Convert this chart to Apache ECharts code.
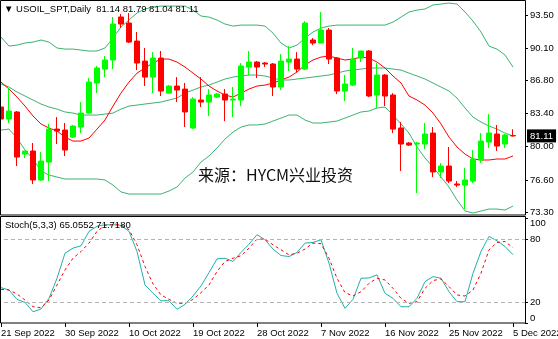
<!DOCTYPE html>
<html>
<head>
<meta charset="utf-8">
<title>USOIL_SPT Daily</title>
<script src="https://cdn.jsdelivr.net/npm/echarts@6.0.0/dist/echarts.min.js"></script>
<style>
  html, body { margin: 0; padding: 0; background: #fff; }
  #chart { width: 558px; height: 339px; }
</style>
</head>
<body>
<div id="chart"></div>
<script>
// 日线K线日期（平台含周日K线）
var dates = ['21 Sep 2022','22 Sep 2022','23 Sep 2022','25 Sep 2022','26 Sep 2022','27 Sep 2022','28 Sep 2022','29 Sep 2022',
  '30 Sep 2022','2 Oct 2022','3 Oct 2022','4 Oct 2022','5 Oct 2022','6 Oct 2022','7 Oct 2022','9 Oct 2022',
  '10 Oct 2022','11 Oct 2022','12 Oct 2022','13 Oct 2022','14 Oct 2022','16 Oct 2022','17 Oct 2022','18 Oct 2022',
  '19 Oct 2022','20 Oct 2022','21 Oct 2022','23 Oct 2022','24 Oct 2022','25 Oct 2022','26 Oct 2022','27 Oct 2022',
  '28 Oct 2022','30 Oct 2022','31 Oct 2022','1 Nov 2022','2 Nov 2022','3 Nov 2022','4 Nov 2022','6 Nov 2022',
  '7 Nov 2022','8 Nov 2022','9 Nov 2022','10 Nov 2022','11 Nov 2022','13 Nov 2022','14 Nov 2022','15 Nov 2022',
  '16 Nov 2022','17 Nov 2022','18 Nov 2022','20 Nov 2022','21 Nov 2022','22 Nov 2022','23 Nov 2022','24 Nov 2022',
  '25 Nov 2022','27 Nov 2022','28 Nov 2022','29 Nov 2022','30 Nov 2022','1 Dec 2022','2 Dec 2022','4 Dec 2022',
  '5 Dec 2022'];

var opens = [84.07, 82.84, 83.56, 79.25, 79.56, 76.59, 78.43, 81.81, 81.71, 80.99,
  82.02, 83.45, 86.53, 87.96, 88.89, 93.30, 92.68, 90.83, 88.78, 87.14,
  89.09, 85.50, 86.22, 85.91, 81.92, 84.79, 84.58, 85.09, 85.40, 84.79,
  84.79, 88.17, 88.68, 88.58, 88.48, 86.12, 88.68, 88.99, 87.96, 90.94,
  90.63, 91.96, 89.09, 85.71, 86.32, 89.09, 89.81, 85.30, 87.35, 85.30,
  81.92, 80.38, 80.28, 80.28, 81.40, 77.41, 78.02, 76.18, 76.07, 76.48,
  78.63, 80.48, 81.30, 80.28, 81.14];
var highs = [84.90, 86.02, 83.66, 79.56, 80.38, 79.46, 82.33, 83.04, 82.43, 82.23,
  84.58, 87.04, 88.27, 89.30, 93.30, 93.60, 93.70, 91.76, 90.12, 89.70,
  89.81, 86.32, 87.14, 86.53, 85.09, 87.14, 85.91, 85.50, 85.91, 86.12,
  88.58, 89.81, 88.78, 88.68, 88.58, 89.50, 90.32, 89.70, 92.88, 91.14,
  93.80, 92.17, 89.19, 87.35, 90.12, 89.85, 89.91, 88.58, 87.45, 85.50,
  82.53, 80.48, 80.48, 82.43, 82.02, 78.33, 79.97, 76.48, 77.82, 79.66,
  81.40, 83.35, 82.23, 81.30, 81.79];
var lows = [82.43, 82.43, 78.02, 78.84, 76.17, 76.50, 76.48, 80.28, 79.05, 80.90,
  81.40, 83.40, 85.50, 87.14, 87.96, 92.20, 90.63, 87.86, 86.22, 85.50,
  85.20, 85.45, 84.58, 82.02, 81.81, 84.07, 83.15, 84.99, 82.63, 83.04,
  84.17, 87.35, 87.04, 88.17, 85.20, 85.81, 87.76, 87.66, 87.86, 90.42,
  90.60, 88.48, 85.40, 84.68, 86.22, 88.68, 85.09, 83.97, 84.17, 81.40,
  77.51, 80.07, 75.25, 79.76, 76.89, 76.79, 76.28, 75.87, 73.61, 76.28,
  78.33, 79.87, 79.56, 79.87, 81.04];
var closes = [82.84, 83.66, 78.94, 79.56, 76.59, 78.53, 81.81, 81.61, 79.66, 82.12,
  83.45, 86.63, 88.07, 88.89, 92.58, 92.58, 90.73, 88.58, 87.14, 89.09,
  85.71, 86.22, 85.81, 83.56, 84.89, 84.58, 85.30, 85.40, 84.79, 84.89,
  88.27, 88.68, 88.17, 88.48, 86.12, 88.78, 88.99, 87.96, 92.68, 90.63,
  91.96, 88.99, 85.71, 86.43, 88.99, 89.81, 85.20, 87.35, 85.20, 81.81,
  80.28, 80.17, 80.38, 81.30, 77.41, 78.02, 76.48, 76.07, 76.59, 78.74,
  80.58, 81.40, 80.07, 81.20, 81.11];

// 布林带 + 均线
var bollUpper = [91.24, 90.32, 90.42, 90.63, 90.73, 90.94, 90.73, 90.12, 90.01, 90.01,
  89.91, 89.81, 89.81, 90.12, 91.14, 92.27, 92.99, 93.71, 94.12, 94.32,
  94.42, 94.42, 94.42, 94.42, 94.01, 93.40, 93.29, 92.99, 92.58, 92.37,
  92.47, 92.47, 92.47, 92.37, 91.65, 90.63, 90.12, 90.42, 91.14, 91.76,
  92.17, 92.37, 92.47, 92.47, 92.47, 92.47, 92.47, 92.47, 92.47, 92.78,
  93.29, 93.81, 94.01, 94.12, 94.53, 94.63, 94.73, 94.63, 93.81, 92.88,
  91.76, 90.32, 90.01, 89.40, 88.17];
var bollMid = [86.43, 86.12, 85.61, 85.20, 84.79, 84.38, 84.07, 83.86, 83.56, 83.45,
  83.25, 83.25, 83.25, 83.35, 83.45, 83.86, 84.17, 84.27, 84.38, 84.48,
  84.58, 84.79, 84.99, 85.50, 85.81, 86.12, 86.32, 86.63, 86.94, 87.14,
  87.25, 87.35, 87.35, 87.25, 87.04, 86.84, 86.84, 86.94, 87.04, 87.14,
  87.25, 87.35, 87.55, 87.76, 87.86, 87.96, 88.07, 88.07, 88.07, 87.96,
  87.86, 87.55, 87.25, 86.94, 86.53, 86.12, 85.71, 84.99, 83.97, 83.04,
  82.53, 82.12, 81.81, 81.40, 81.10];
var bollLower = [81.71, 81.81, 80.89, 79.66, 78.74, 77.51, 77.10, 76.89, 76.69, 76.69,
  76.69, 76.69, 76.69, 76.59, 76.07, 75.36, 75.15, 75.15, 75.15, 75.15,
  75.15, 75.46, 75.87, 76.79, 77.41, 78.43, 79.05, 79.87, 80.79, 81.50,
  82.02, 82.23, 82.23, 82.33, 82.63, 82.94, 83.25, 83.25, 82.74, 82.43,
  82.43, 82.53, 82.63, 82.94, 83.25, 83.56, 83.66, 83.97, 84.07, 83.25,
  82.33, 81.40, 79.97, 78.84, 77.92, 76.89, 75.87, 74.54, 73.41, 73.20,
  73.41, 73.61, 73.61, 73.51, 73.92];
var maRed = [86.63, 85.91, 85.09, 84.17, 83.15, 82.33, 81.92, 81.61, 80.99, 80.58,
  80.58, 80.89, 81.81, 82.74, 84.17, 85.50, 86.63, 87.55, 88.07, 88.58,
  88.99, 88.99, 88.68, 88.17, 87.55, 86.94, 86.22, 85.71, 85.30, 85.09,
  85.50, 85.91, 86.22, 86.32, 86.53, 86.84, 87.14, 87.66, 88.38, 88.89,
  89.19, 89.30, 89.09, 88.89, 88.99, 89.19, 89.09, 88.68, 88.07, 87.25,
  86.53, 85.20, 84.79, 84.27, 83.45, 82.33, 80.99, 79.97, 79.25, 78.74,
  78.64, 78.64, 78.74, 78.74, 79.05];

// Stoch(5,3,3)
var stochK = [33.7, 31.4, 22.5, 19.6, 10.7, 13.3, 23.5, 42.6, 66.5, 71.3,
  73.5, 87.3, 92.1, 93.6, 93.6, 93.0, 87.3, 68.1, 36.2, 28.3,
  21.2, 21.2, 13.0, 17.7, 25.7, 35.3, 48.0, 61.1, 61.7, 58.6,
  67.2, 75.1, 84.1, 79.3, 70.4, 64.3, 63.3, 67.2, 76.1, 76.7,
  79.3, 57.0, 28.3, 13.9, 22.5, 42.6, 42.9, 45.8, 28.3, 23.5,
  15.5, 15.5, 23.5, 39.4, 44.2, 42.6, 29.8, 20.3, 20.3, 47.4,
  68.1, 82.5, 78.3, 72.9, 65.0552];
var stochD = [32.1, 31.4, 27.6, 21.9, 15.5, 14.5, 21.9, 36.2, 50.6, 61.7,
  68.1, 76.1, 87.3, 93.0, 93.6, 93.6, 88.9, 74.5, 53.8, 37.2,
  26.7, 22.5, 18.7, 18.7, 22.5, 28.9, 36.2, 49.0, 58.6, 61.7,
  64.0, 71.3, 79.9, 79.9, 74.5, 69.7, 64.9, 66.5, 70.4, 76.1,
  75.5, 61.7, 42.6, 28.9, 25.7, 29.8, 37.8, 42.6, 41.0, 33.0,
  23.5, 18.7, 20.3, 33.0, 40.4, 42.0, 34.6, 26.7, 25.7, 31.4,
  47.4, 69.7, 76.7, 77.7, 71.718];

var priceTicks = [73.3, 76.6, 80.0, 83.4, 86.8, 90.1, 93.5];
var stochTicks = [0, 20, 80, 100];
var stochLevels = [20, 80];

var last = dates.length - 1;
var cats = dates.concat(['']); // 右侧留一根K线的空位
var kData = dates.map(function (d, i) {
  return [opens[i], closes[i], lows[i], highs[i]];
});

var FONT = '"Liberation Sans", Arial, sans-serif';
var headText = '\u25BC USOIL_SPT,Daily  ' + [opens[last], highs[last], lows[last], closes[last]]
  .map(function (v) { return v.toFixed(2); }).join(' ');
var stochText = 'Stoch(5,3,3) ' + stochK[last].toFixed(4) + ' ' + stochD[last].toFixed(4);

function bandLine(name, data, color) {
  return {
    name: name, type: 'line', data: data, xAxisIndex: 0, yAxisIndex: 0,
    showSymbol: false, silent: true,
    lineStyle: { color: color, width: 1 }, z: 3
  };
}

var option = {
  animation: false,
  backgroundColor: '#fff',
  grid: [
    { left: -3, width: 528, top: 1, height: 214, outerBoundsMode: 'none' },
    { left: -3, width: 528, top: 218, height: 105, outerBoundsMode: 'none' }
  ],
  xAxis: [
    { type: 'category', gridIndex: 0, data: cats, boundaryGap: true,
      axisLine: { show: false }, axisTick: { show: false }, axisLabel: { show: false } },
    { type: 'category', gridIndex: 1, data: cats, boundaryGap: true,
      axisLine: { show: false },
      axisTick: { show: true, interval: 7, alignWithLabel: true, length: 4, lineStyle: { color: '#000' } },
      axisLabel: { interval: 7, align: 'left', margin: 5, color: '#000', fontSize: 9.5, fontFamily: FONT } }
  ],
  yAxis: [
    { type: 'value', gridIndex: 0, position: 'right', min: 73.0, max: 94.94, scale: true,
      splitLine: { show: false },
      axisLine: { show: false },
      axisTick: { show: true, customValues: priceTicks, length: 3, lineStyle: { color: '#000' } },
      axisLabel: { customValues: priceTicks, margin: 5, color: '#000', fontSize: 9.5, fontFamily: FONT,
        formatter: function (v) { return v.toFixed(2); } } },
    { type: 'value', gridIndex: 1, position: 'right', min: 0, max: 100,
      splitLine: { show: false },
      axisLine: { show: false },
      axisTick: { show: true, customValues: stochTicks, length: 3, lineStyle: { color: '#000' } },
      axisLabel: { customValues: stochTicks, margin: 5, color: '#000', fontSize: 9.5, fontFamily: FONT,
        verticalAlignMaxLabel: 'top', verticalAlignMinLabel: 'bottom' } }
  ],
  series: [
    bandLine('upper', bollUpper, '#3cb371'),
    bandLine('mid', bollMid, '#3cb371'),
    bandLine('lower', bollLower, '#3cb371'),
    bandLine('ma', maRed, '#ff0000'),
    {
      name: 'USOIL', type: 'candlestick', data: kData, xAxisIndex: 0, yAxisIndex: 0,
      barWidth: 5, z: 4,
      itemStyle: { color: '#00ff00', color0: '#ff0000', borderColor: '#00ff00', borderColor0: '#ff0000',
        borderColorDoji: '#ff0000', borderWidth: 1 },
      markLine: {
        silent: true, symbol: 'none',
        lineStyle: { color: 'transparent', width: 1 },
        label: { position: 'end', distance: 2, formatter: closes[last].toFixed(2), color: '#fff',
          backgroundColor: '#000', padding: [2, 3, 1, 3], fontSize: 9.5, fontFamily: FONT },
        data: [{ yAxis: closes[last] }]
      }
    },
    {
      name: 'K', type: 'line', data: stochK, xAxisIndex: 1, yAxisIndex: 1,
      showSymbol: false, lineStyle: { color: '#20b2aa', width: 1 }, z: 3,
      markLine: {
        silent: true, symbol: 'none', label: { show: false },
        lineStyle: { color: '#b4b4b4', type: [4, 3], width: 1 },
        data: stochLevels.map(function (v) { return { yAxis: v }; })
      }
    },
    {
      name: 'D', type: 'line', data: stochD, xAxisIndex: 1, yAxisIndex: 1,
      showSymbol: false, lineStyle: { color: '#ff0000', width: 1, type: [3, 3] }, z: 3
    }
  ],
  graphic: [
    { type: 'rect', silent: true, z: 10, shape: { x: 0.5, y: 0.5, width: 525, height: 214.5 },
      style: { fill: 'none', stroke: '#000', lineWidth: 1 } },
    { type: 'rect', silent: true, z: 10, shape: { x: 0.5, y: 216.5, width: 525, height: 106.5 },
      style: { fill: 'none', stroke: '#000', lineWidth: 1 } },
    { type: 'text', silent: true, z: 11, left: 4, top: 4,
      style: { text: headText, font: '9.5px ' + FONT, fill: '#000' } },
    { type: 'text', silent: true, z: 11, left: 5, top: 220,
      style: { text: stochText, font: '9.5px ' + FONT, fill: '#000' } },
    { type: 'text', silent: true, z: 11, left: 198, top: 167,
      style: { text: '来源：HYCM兴业投资', font: '16px "Noto Sans CJK SC"', fill: '#111' } }
  ]
};

var myChart = echarts.init(document.getElementById('chart'));
myChart.setOption(option);
</script>
</body>
</html>
